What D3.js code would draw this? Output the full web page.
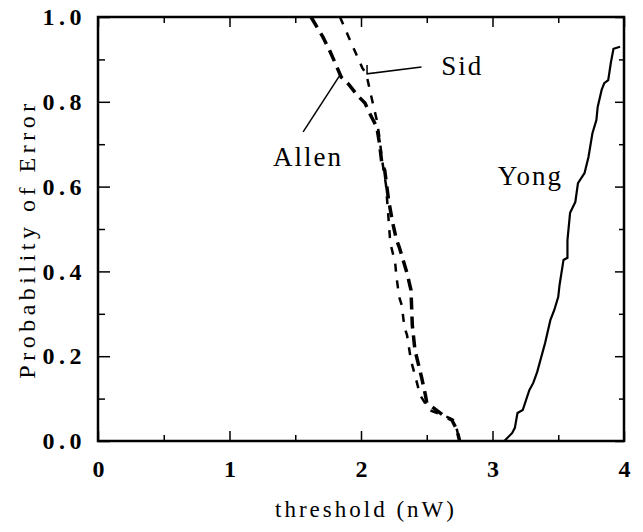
<!DOCTYPE html>
<html>
<head>
<meta charset="utf-8">
<script src="https://cdn.jsdelivr.net/npm/d3@7.9.0/dist/d3.min.js"></script>
<style>
  body { margin: 0; background: #fff; }
  svg { display: block; }
</style>
</head>
<body>
<svg width="643" height="532"></svg>
<script>
// values
const xTicks = [0, 1, 2, 3, 4];
const xMinor = [0.5, 1.5, 2.5, 3.5];
const yTicks = [0, 0.2, 0.4, 0.6, 0.8, 1.0];
const yMinor = [0.1, 0.3, 0.5, 0.7, 0.9];

const allenX = [1.62, 1.71, 1.76, 1.81, 1.85, 1.91, 1.97, 2.03, 2.08, 2.12, 2.14, 2.16, 2.18, 2.21, 2.24, 2.27, 2.29, 2.35, 2.38, 2.39, 2.41, 2.46, 2.49, 2.50, 2.64, 2.69, 2.73, 2.75];
const allenY = [1.0, 0.953, 0.922, 0.887, 0.858, 0.840, 0.816, 0.797, 0.764, 0.741, 0.703, 0.651, 0.639, 0.568, 0.516, 0.474, 0.458, 0.396, 0.356, 0.274, 0.215, 0.151, 0.108, 0.09, 0.057, 0.05, 0.026, 0.0];

const sidX = [1.84, 1.91, 1.96, 2.01, 2.04, 2.08, 2.12, 2.14, 2.16, 2.19, 2.22, 2.23, 2.26, 2.27, 2.29, 2.31, 2.33, 2.35, 2.38, 2.42, 2.45, 2.52, 2.64, 2.70, 2.73, 2.75];
const sidY = [1.0, 0.95, 0.915, 0.88, 0.866, 0.81, 0.757, 0.717, 0.663, 0.604, 0.479, 0.458, 0.42, 0.387, 0.34, 0.32, 0.269, 0.25, 0.19, 0.144, 0.108, 0.073, 0.059, 0.05, 0.026, 0.0];

const yongX = [3.09, 3.15, 3.17, 3.19, 3.23, 3.28, 3.31, 3.34, 3.40, 3.44, 3.47, 3.50, 3.51, 3.54, 3.57, 3.57, 3.59, 3.63, 3.65, 3.70, 3.73, 3.76, 3.79, 3.80, 3.83, 3.85, 3.88, 3.90, 3.92, 3.97];
const yongY = [0.0, 0.019, 0.031, 0.066, 0.073, 0.12, 0.137, 0.163, 0.231, 0.285, 0.309, 0.34, 0.368, 0.427, 0.432, 0.474, 0.538, 0.564, 0.608, 0.632, 0.67, 0.726, 0.757, 0.788, 0.828, 0.844, 0.851, 0.892, 0.925, 0.93];

// curve names and where they sit (data units)
const names = ['Allen', 'Sid', 'Yong'];
const nameX = [1.33, 2.61, 3.04];
const nameY = [0.649, 0.863, 0.604];

const serif = 'Tinos';
const svg = d3.select('svg');
const plotL = 98, plotR = 624, plotT = 17, plotB = 441;

const x = d3.scaleLinear().domain([0, 4]).range([plotL, plotR]);
const y = d3.scaleLinear().domain([0, 1]).range([plotB, plotT]);

// ticks point inward on all four sides
function addAxis(axisFn, scale, vals, size, tr, labels, pad) {
  let g = svg.append('g')
    .attr('transform', tr)
    .call(axisFn(scale).tickValues(vals).tickSize(-size).tickPadding(pad)
      .tickFormat(labels ? d3.format('.1f') : ''));
  g.select('.domain').remove();
  g.selectAll('line').attr('stroke', '#000').attr('stroke-width', 1.5);
  return g;
}

let xb = addAxis(d3.axisBottom, x, xTicks, 10, `translate(0,${plotB})`, true, 19);
xb.selectAll('text').text(d => d).attr('dx', 2.2);
addAxis(d3.axisBottom, x, xMinor, 6, `translate(0,${plotB})`, false, 0);
addAxis(d3.axisTop, x, xTicks, 10, `translate(0,${plotT})`, false, 0);
addAxis(d3.axisTop, x, xMinor, 6, `translate(0,${plotT})`, false, 0);
addAxis(d3.axisLeft, y, yTicks, 12, `translate(${plotL},0)`, true, 12);
addAxis(d3.axisLeft, y, yMinor, 7, `translate(${plotL},0)`, false, 0);
addAxis(d3.axisRight, y, yTicks, 9, `translate(${plotR},0)`, false, 0);
addAxis(d3.axisRight, y, yMinor, 5, `translate(${plotR},0)`, false, 0);

svg.selectAll('.tick text')
  .attr('font-family', serif)
  .attr('font-size', 24)
  .attr('font-weight', 'bold')
  .attr('letter-spacing', 4.5)
  .attr('fill', '#000');

svg.append('rect')
  .attr('x', plotL).attr('y', plotT)
  .attr('width', plotR - plotL).attr('height', plotB - plotT)
  .attr('fill', 'none').attr('stroke', '#000').attr('stroke-width', 2.5);

const line = d3.line().x(d => x(d[0])).y(d => y(d[1]));

svg.append('path')
  .datum(allenX.map((v, i) => [v, allenY[i]]))
  .attr('d', line)
  .attr('fill', 'none').attr('stroke', '#000')
  .attr('stroke-width', 3.5).attr('stroke-dasharray', '12,7');

svg.append('path')
  .datum(sidX.map((v, i) => [v, sidY[i]]))
  .attr('d', line)
  .attr('fill', 'none').attr('stroke', '#000')
  .attr('stroke-width', 2.5).attr('stroke-dasharray', '8,9');

svg.append('path')
  .datum(yongX.map((v, i) => [v, yongY[i]]))
  .attr('d', line)
  .attr('fill', 'none').attr('stroke', '#000')
  .attr('stroke-width', 2.2);

// pointer lines for the curve names
svg.append('path')
  .datum([[1.84, 0.863], [1.56, 0.729]])
  .attr('d', line)
  .attr('fill', 'none').attr('stroke', '#000').attr('stroke-width', 1.5);
svg.append('path')
  .datum([[2.046, 0.887], [2.046, 0.866], [2.46, 0.882]])
  .attr('d', line)
  .attr('fill', 'none').attr('stroke', '#000').attr('stroke-width', 1.5);

names.forEach((t, i) => {
  svg.append('text')
    .attr('x', x(nameX[i])).attr('y', y(nameY[i]))
    .attr('font-family', serif)
    .attr('font-size', 27)
    .attr('letter-spacing', 2)
    .text(t);
});

svg.append('text')
  .attr('x', 366).attr('y', 517)
  .attr('text-anchor', 'middle')
  .attr('font-family', serif)
  .attr('font-size', 23)
  .attr('letter-spacing', 3)
  .text('threshold (nW)');

svg.append('text')
  .attr('transform', 'translate(35,239) rotate(-90)')
  .attr('text-anchor', 'middle')
  .attr('font-family', serif)
  .attr('font-size', 24)
  .attr('letter-spacing', 4.5)
  .text('Probability of Error');
</script>
</body>
</html>
